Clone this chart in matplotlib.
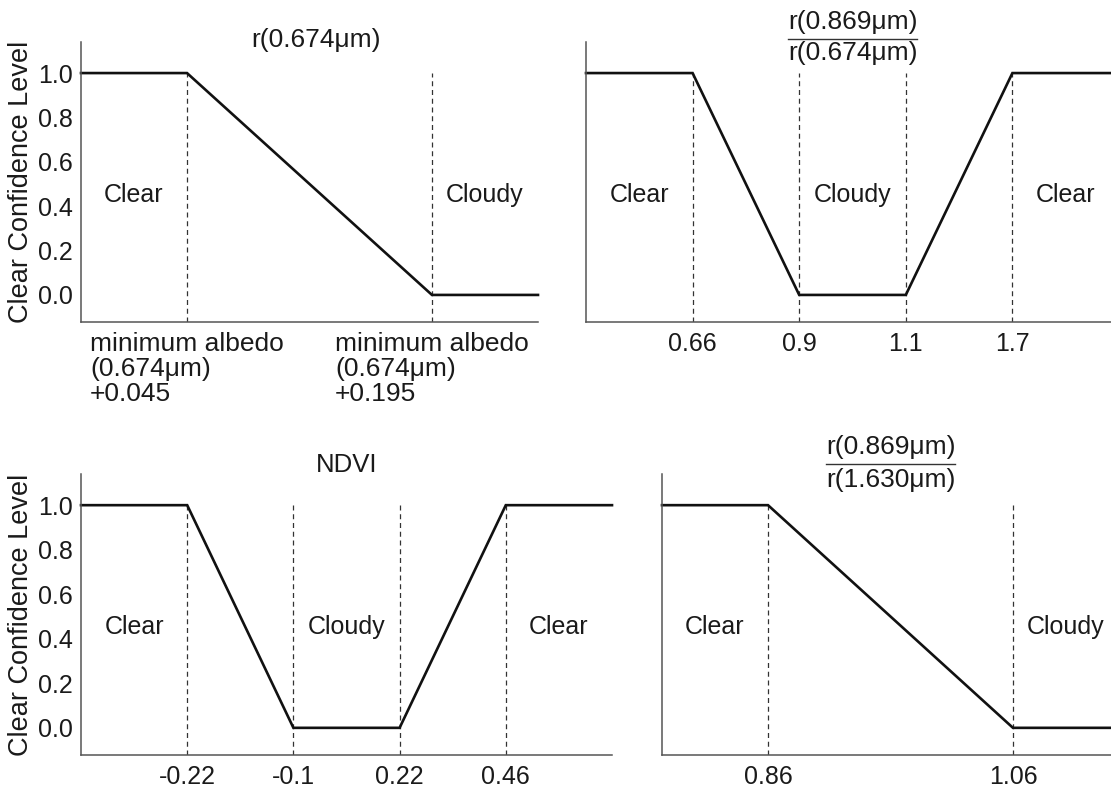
import numpy as np
import matplotlib.pyplot as plt

plt.rcParams['font.family'] = ['Liberation Sans', 'DejaVu Sans']
plt.rcParams['font.size'] = 18

# Threshold tick labels, clear-confidence at each threshold, and region names
red_thresholds = ['minimum albedo\n(0.674μm)\n+0.045', 'minimum albedo\n(0.674μm)\n+0.195']
red_conf = [1.0, 0.0]
red_regions = ['Clear', 'Cloudy']

vr_thresholds = ['0.66', '0.9', '1.1', '1.7']
vr_conf = [1.0, 0.0, 0.0, 1.0]
vr_regions = ['Clear', 'Cloudy', 'Clear']

ndvi_thresholds = ['-0.22', '-0.1', '0.22', '0.46']
ndvi_conf = [1.0, 0.0, 0.0, 1.0]
ndvi_regions = ['Clear', 'Cloudy', 'Clear']

swir_thresholds = ['0.86', '1.06']
swir_conf = [1.0, 0.0]
swir_regions = ['Clear', 'Cloudy']

y_ticks = [0.0, 0.2, 0.4, 0.6, 0.8, 1.0]

W, H = 1111, 788
fig = plt.figure(figsize=(W / 100, H / 100), dpi=100)
TXT = '#1a1a1a'


def px_rect(left, right, top, bottom):
    return [left / W, (H - bottom) / H, (right - left) / W, (bottom - top) / H]


def draw_panel(rect, thresholds, conf, regions, gaps, show_y, tick_size=18):
    ax = fig.add_axes(rect)
    edges = np.concatenate([[0], np.cumsum(gaps)])
    pos = edges[1:-1]
    xs = edges
    ys = [conf[0]] + list(conf) + [conf[-1]]
    ax.set_xlim(edges[0], edges[-1])
    ax.set_ylim(-0.122, 1.14)

    ax.vlines(pos, -0.122, 1.0, colors='#333333', linestyles=(0, (4, 3)), lw=0.9)
    ax.plot(xs, ys, color='#111111', lw=1.9, solid_joinstyle='miter', clip_on=False)

    # region names in flat parts
    k = 0
    for i in range(len(xs) - 1):
        if ys[i] == ys[i + 1]:
            ax.text((xs[i] + xs[i + 1]) / 2, 0.42, regions[k], ha='center', va='baseline',
                    color=TXT)
            k += 1

    ax.set_xticks(pos)
    ax.set_xticklabels(thresholds, linespacing=1.05, fontsize=tick_size)
    for lbl in ax.get_xticklabels():
        lbl.set_multialignment('left')
    ax.tick_params(axis='x', length=0, pad=7, colors=TXT)

    if show_y:
        ax.set_yticks(y_ticks)
        ax.set_yticklabels([f'{v:.1f}' for v in y_ticks])
        ax.tick_params(axis='y', length=0, pad=6, colors=TXT)
        ax.set_ylabel('Clear Confidence Level', color=TXT, fontsize=19.5)
    else:
        ax.set_yticks([])

    for s in ['top', 'right']:
        ax.spines[s].set_visible(False)
    for s in ['left', 'bottom']:
        ax.spines[s].set_color('#555555')
        ax.spines[s].set_linewidth(1.1)
    return ax


two_gaps = [1, 2.31, 1]
four_gaps = [1, 1, 1, 1, 1]

ax1 = draw_panel(px_rect(81, 538, 42, 322), red_thresholds, red_conf, red_regions, two_gaps, True,
                 tick_size=19)
ax2 = draw_panel(px_rect(586, 1119, 42, 322), vr_thresholds, vr_conf, vr_regions, four_gaps, False)
ax3 = draw_panel(px_rect(81, 612, 474, 755), ndvi_thresholds, ndvi_conf, ndvi_regions, four_gaps, True)
ax4 = draw_panel(px_rect(662, 1119, 474, 755), swir_thresholds, swir_conf, swir_regions, two_gaps, False)

# y label: right edge (baseline side) of the rotated text near x = 34 px
ax1.yaxis.set_label_coords((34 - 81) / 457, 0.5)
ax3.yaxis.set_label_coords((34 - 81) / 531, 0.5)

# titles
ax1.text(0.514, 0.982, 'r(0.674μm)', transform=ax1.transAxes, ha='center', va='baseline',
         color=TXT, fontsize=19)
ax3.text(0.5, 1.007, 'NDVI', transform=ax3.transAxes, ha='center', va='baseline',
         color=TXT, fontsize=18.5)

fractions = [
    (ax2, 'r(0.869μm)', 'r(0.674μm)', 1.046, 1.011, 0.936),
    (ax4, 'r(0.869μm)', 'r(1.630μm)', 1.071, 1.036, 0.954),
]
num_texts = []
for ax, num, den, yn, yl, yd in fractions:
    tn = ax.text(0.5, yn, num, transform=ax.transAxes, ha='center', va='baseline', color=TXT,
                 fontsize=19)
    ax.text(0.5, yd, den, transform=ax.transAxes, ha='center', va='baseline', color=TXT,
            fontsize=19)
    num_texts.append((ax, tn, yl))

fig.canvas.draw()
renderer = fig.canvas.get_renderer()
for ax, tn, yl in num_texts:
    bb = tn.get_window_extent(renderer)
    inv = ax.transAxes.inverted()
    (x0, _), (x1, _) = inv.transform([[bb.x0, 0], [bb.x1, 0]])
    ax.plot([x0, x1], [yl, yl], transform=ax.transAxes, clip_on=False, color='#333333', lw=1.0)

fig.savefig('out.png', dpi=100)
